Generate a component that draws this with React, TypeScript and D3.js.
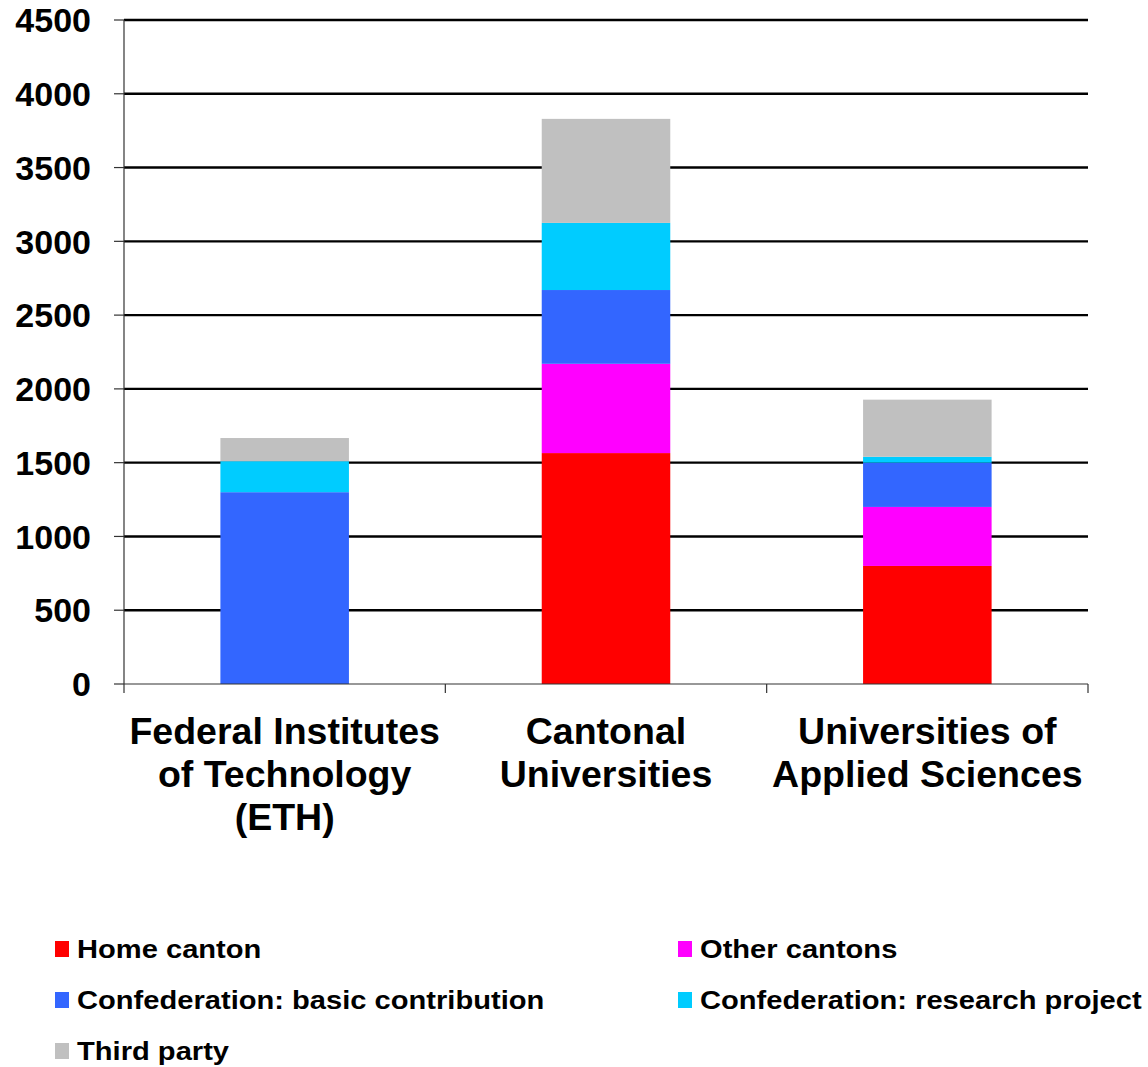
import * as d3 from "d3";

const categories = ["ETH", "Cantonal", "UAS"];
const categoryLines = [
  ["Federal Institutes", "of Technology", "(ETH)"],
  ["Cantonal", "Universities"],
  ["Universities of", "Applied Sciences"],
];

const seriesNames = [
  "Home canton",
  "Other cantons",
  "Confederation: basic contribution",
  "Confederation: research project",
  "Third party",
];
const seriesColors = ["#ff0000", "#ff00ff", "#3366ff", "#00ccff", "#c0c0c0"];

const homeCanton = [0, 1565, 800];
const otherCantons = [0, 605, 400];
const basicContribution = [1300, 500, 300];
const researchProject = [210, 455, 40];
const thirdParty = [157, 705, 387];

const yTicks = [0, 500, 1000, 1500, 2000, 2500, 3000, 3500, 4000, 4500];

const W = 1148;
const H = 1067;
const margin = { top: 20, right: 60, bottom: 383, left: 124 };
const innerW = W - margin.left - margin.right;
const innerH = H - margin.top - margin.bottom;
const font = "'Liberation Sans', Arial, sans-serif";

export default function App() {
  const rows = categories.map((c, i) => ({
    category: c,
    [seriesNames[0]]: homeCanton[i],
    [seriesNames[1]]: otherCantons[i],
    [seriesNames[2]]: basicContribution[i],
    [seriesNames[3]]: researchProject[i],
    [seriesNames[4]]: thirdParty[i],
  }));
  const stacked = d3.stack<any>().keys(seriesNames)(rows);

  const x = d3
    .scaleBand()
    .domain(categories)
    .range([0, innerW])
    .paddingInner(0.6)
    .paddingOuter(0.3);
  const y = d3.scaleLinear().domain([0, 4500]).range([innerH, 0]);
  const step = x.step();

  return (
    <svg
      width={W}
      height={H}
      style={{ position: "absolute", left: 0, top: 0, background: "#fff" }}
    >
      <g transform={`translate(${margin.left},${margin.top})`}>
        {/* gridlines */}
        {yTicks
          .filter((t) => t > 0)
          .map((t) => (
            <line
              key={`g${t}`}
              x1={0}
              x2={innerW}
              y1={y(t)}
              y2={y(t)}
              stroke="#000"
              strokeWidth={2.4}
            />
          ))}
        {/* bars */}
        {stacked.map((s, si) =>
          s.map((d, i) =>
            d[1] - d[0] > 0 ? (
              <rect
                key={`b${si}-${i}`}
                x={x(categories[i])}
                y={y(d[1])}
                width={x.bandwidth()}
                height={y(d[0]) - y(d[1])}
                fill={seriesColors[si]}
              />
            ) : null
          )
        )}
        {/* axes */}
        <line x1={0} x2={0} y1={0} y2={innerH} stroke="#333" strokeWidth={1.2} />
        <line x1={0} x2={innerW} y1={innerH} y2={innerH} stroke="#333" strokeWidth={1.2} />
        {yTicks.map((t) => (
          <g key={`t${t}`}>
            <line x1={-10} x2={0} y1={y(t)} y2={y(t)} stroke="#333" strokeWidth={1.2} />
            <text
              x={-33}
              y={y(t)}
              dy="0.36em"
              textAnchor="end"
              fontFamily={font}
              fontWeight="bold"
              fontSize={34}
              fill="#000"
            >
              {t}
            </text>
          </g>
        ))}
        {d3.range(categories.length + 1).map((i) => (
          <line
            key={`xt${i}`}
            x1={i * step}
            x2={i * step}
            y1={innerH}
            y2={innerH + 9}
            stroke="#333"
            strokeWidth={1.2}
          />
        ))}
        {categories.map((c, i) => (
          <text
            key={`xl${c}`}
            x={(x(c) ?? 0) + x.bandwidth() / 2}
            y={innerH + 60}
            textAnchor="middle"
            fontFamily={font}
            fontWeight="bold"
            fontSize={37.5}
            fill="#000"
          >
            {categoryLines[i].map((l, li) => (
              <tspan key={li} x={(x(c) ?? 0) + x.bandwidth() / 2} dy={li === 0 ? 0 : 43}>
                {l}
              </tspan>
            ))}
          </text>
        ))}
      </g>
      {/* legend */}
      <g fontFamily={font} fontWeight="bold" fontSize={26} fill="#000">
        {seriesNames.map((n, i) => {
          const col = i % 2;
          const row = Math.floor(i / 2);
          const lx = col === 0 ? 55 : 678;
          const ly = 949 + row * 51;
          return (
            <g key={`l${n}`} transform={`translate(${lx},${ly})`}>
              <rect x={0} y={-8} width={14} height={16} fill={seriesColors[i]} />
              <text x={0} y={0} dy="0.36em" transform="translate(22,0) scale(1.12,1)">
                {n}
              </text>
            </g>
          );
        })}
      </g>
    </svg>
  );
}
